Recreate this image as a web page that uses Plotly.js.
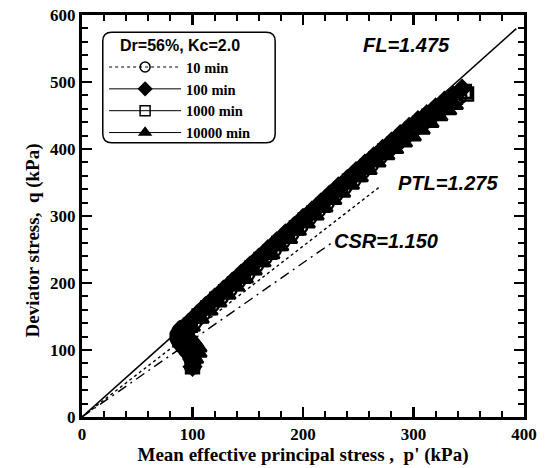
<!DOCTYPE html>
<html>
<head>
<meta charset="utf-8">
<script src="https://cdn.plot.ly/plotly-3.0.1.min.js"></script>
<style>
  html, body { margin: 0; padding: 0; background: #fff; }
  #chart { width: 549px; height: 468px; }
</style>
</head>
<body>
<div id="chart"></div>
<script>
// Effective stress paths, Dr=56%, Kc=2.0, for four ageing durations
const seriesNames = ['10 min', '100 min', '1000 min', '10000 min'];

const p10 = [100, 99, 97, 94, 91, 88, 86, 86, 88, 91, 94, 102, 110, 118, 126, 134, 142, 150, 158, 166, 174, 182, 190, 198, 206, 214, 222, 230, 238, 246, 254, 262, 270, 278, 286, 294, 302, 310, 318, 326, 334, 342];
const q10 = [75, 84, 92, 99, 105, 111, 117, 123, 129, 134, 128, 141, 154, 167, 178, 190, 203, 213, 226, 238, 249, 262, 273, 284, 297, 308, 319, 332, 343, 353, 366, 376, 388, 399, 409, 420, 431, 440, 451, 460, 469, 478];

const p100 = [100, 100, 98, 95, 92, 90, 89, 90, 96, 104, 112, 120, 128, 136, 144, 152, 160, 168, 176, 184, 192, 200, 208, 216, 224, 232, 240, 248, 256, 264, 272, 280, 288, 296, 304, 312, 320, 328, 336, 344];
const q100 = [75, 86, 96, 104, 110, 116, 122, 128, 140, 153, 166, 178, 190, 202, 214, 226, 238, 250, 262, 274, 285, 297, 308, 320, 332, 344, 355, 367, 378, 389, 400, 411, 422, 433, 443, 452, 462, 472, 480, 490];

const p1000 = [100, 101, 100, 97, 93, 90, 89, 92, 98, 106, 114, 122, 130, 138, 146, 154, 162, 170, 178, 186, 194, 202, 210, 218, 226, 234, 242, 250, 258, 266, 274, 282, 290, 298, 306, 314, 322, 330, 338, 346, 348];
const q1000 = [75, 85, 95, 103, 109, 115, 121, 128, 137, 151, 163, 176, 187, 199, 210, 223, 235, 246, 259, 270, 282, 294, 305, 316, 328, 340, 352, 362, 374, 385, 397, 407, 418, 429, 439, 449, 458, 468, 477, 486, 482];

const p10000 = [100, 103, 106, 106, 103, 99, 96, 95, 100, 108, 116, 124, 132, 140, 148, 156, 164, 172, 180, 188, 196, 204, 212, 220, 228, 236, 244, 252, 260, 268, 276, 284, 292, 300, 308, 316, 324, 332, 338];
const q10000 = [76, 86, 95, 103, 110, 116, 122, 128, 134, 146, 158, 170, 182, 194, 206, 218, 230, 242, 254, 265, 277, 288, 300, 312, 323, 334, 346, 357, 368, 379, 390, 399, 409, 418, 428, 438, 448, 457, 465];

// Reference stress-ratio lines (q = ratio * p')
const lineNames = ['FL=1.475', 'PTL=1.275', 'CSR=1.150'];
const lineRatios = [1.475, 1.275, 1.150];
const lineEndP = [393, 270, 226];

// Axis tick labels
const xTickVals = [0, 100, 200, 300, 400];
const xTickText = ['0', '100', '200', '300', '400'];
const yTickVals = [0, 100, 200, 300, 400, 500, 600];
const yTickText = ['0', '100', '200', '300', '400', '500', '600'];

const pValues = [p10, p100, p1000, p10000];
const qValues = [q10, q100, q1000, q10000];

const markerSymbols = ['circle-open', 'diamond', 'square-open', 'triangle-up'];
const lineDashes = ['dot', 'solid', 'solid', 'solid'];
const refDashes = ['solid', '3px,3px', '10px,5px,2px,5px'];

const traces = [];

lineRatios.forEach((r, i) => {
  traces.push({
    x: [0, lineEndP[i]],
    y: [0, r * lineEndP[i]],
    mode: 'lines',
    line: { color: '#000', width: i === 0 ? 1.6 : 1.4, dash: refDashes[i] },
    showlegend: false,
    hoverinfo: 'skip',
    name: lineNames[i]
  });
});

// Stress paths (dense overlapping markers)
seriesNames.forEach((name, i) => {
  traces.push({
    x: pValues[i],
    y: qValues[i],
    name: name,
    legendgroup: name,
    showlegend: false,
    mode: 'lines+markers',
    line: { color: '#000', width: 1, dash: lineDashes[i] },
    marker: {
      symbol: markerSymbols[i],
      size: 13,
      color: '#000',
      line: { color: '#000', width: 2.4 }
    }
  });
});

// Legend keys with smaller symbols
seriesNames.forEach((name, i) => {
  traces.push({
    x: [null],
    y: [null],
    name: '<b>' + name + '</b>',
    legendgroup: name,
    mode: 'lines+markers',
    line: { color: '#000', width: 1, dash: lineDashes[i] },
    marker: {
      symbol: markerSymbols[i],
      size: 10,
      color: '#000',
      line: { color: '#000', width: 1.5 }
    }
  });
});

const serif = 'Liberation Serif, Times New Roman, serif';
const sans = 'Liberation Sans, Arial, sans-serif';

// Rounded frame drawn behind the legend (paper coordinates)
const plotW = 549 - 82 - 25, plotH = 468 - 15 - 51;
const bx0 = 0.047, bx1 = 0.437, by0 = 0.682, by1 = 0.957;
const rx = 9 / plotW, ry = 9 / plotH;
const framePath =
  `M ${bx0 + rx},${by0} L ${bx1 - rx},${by0} Q ${bx1},${by0} ${bx1},${by0 + ry} ` +
  `L ${bx1},${by1 - ry} Q ${bx1},${by1} ${bx1 - rx},${by1} ` +
  `L ${bx0 + rx},${by1} Q ${bx0},${by1} ${bx0},${by1 - ry} ` +
  `L ${bx0},${by0 + ry} Q ${bx0},${by0} ${bx0 + rx},${by0} Z`;

const tickFont = { family: serif, size: 17, color: '#000', weight: 'bold' };

const axisCommon = {
  showgrid: false,
  zeroline: false,
  showline: true,
  linecolor: '#000',
  linewidth: 3,
  mirror: 'ticks',
  ticks: 'inside',
  ticklen: 10,
  tickwidth: 2.5,
  tickcolor: '#000',
  tickmode: 'array',
  minor: { dtick: 20, tick0: 0, ticks: 'inside', ticklen: 6, tickwidth: 2, tickcolor: '#000' },
  tickfont: tickFont
};

const layout = {
  width: 549,
  height: 468,
  margin: { l: 82, r: 25, t: 15, b: 51 },
  paper_bgcolor: '#fff',
  plot_bgcolor: '#fff',
  xaxis: Object.assign({}, axisCommon, {
    range: [0, 400],
    tickvals: xTickVals,
    ticktext: xTickText.map(t => '<b>' + t + '</b>'),
    title: { text: "<b>Mean effective principal stress ,  p' (kPa)</b>", font: { family: serif, size: 19, color: '#000' }, standoff: 1 }
  }),
  yaxis: Object.assign({}, axisCommon, {
    range: [0, 600],
    tickvals: yTickVals,
    ticktext: yTickText.map(t => '<b>' + t + '</b>')
  }),
  legend: {
    x: 0.05,
    y: 0.962,
    xanchor: 'left',
    yanchor: 'top',
    bgcolor: 'rgba(0,0,0,0)',
    borderwidth: 0,
    itemwidth: 72,
    title: { text: '<b>Dr=56%, Kc=2.0</b>', side: 'top center', font: { family: sans, size: 16, color: '#000' } },
    font: { family: serif, size: 14.5, color: '#000' },
    tracegroupgap: 0
  },
  shapes: [{
    type: 'path',
    xref: 'paper',
    yref: 'paper',
    path: framePath,
    line: { color: '#000', width: 1.5 },
    fillcolor: 'rgba(0,0,0,0)',
    layer: 'above'
  }],
  annotations: [
    { x: 294, y: 555, text: '<b><i>' + lineNames[0] + '</i></b>' },
    { x: 331, y: 349, text: '<b><i>' + lineNames[1] + '</i></b>' },
    { x: 275, y: 263, text: '<b><i>' + lineNames[2] + '</i></b>' }
  ].map(a => Object.assign(a, {
    xref: 'x', yref: 'y', showarrow: false,
    font: { family: sans, size: 20, color: '#000' }
  })).concat([{
    xref: 'paper', yref: 'paper',
    x: -0.11, y: 0.44,
    xanchor: 'center', yanchor: 'middle',
    textangle: -90,
    showarrow: false,
    text: '<b>Deviator stress,  q (kPa)</b>',
    font: { family: serif, size: 19, color: '#000' }
  }]),
  showlegend: true
};

Plotly.newPlot('chart', traces, layout, { displayModeBar: false, staticPlot: true });
</script>
</body>
</html>
